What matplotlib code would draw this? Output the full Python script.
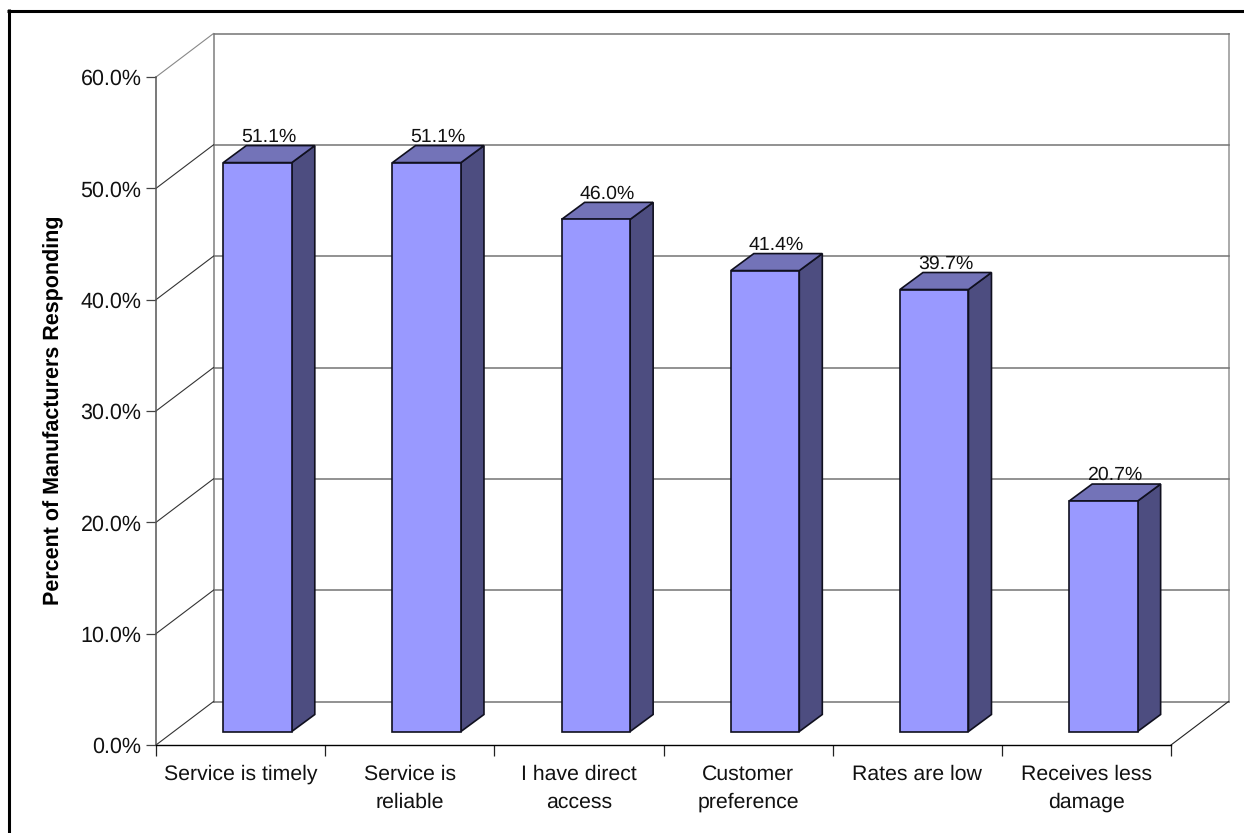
import matplotlib
matplotlib.use('Agg')
import matplotlib.pyplot as plt
from matplotlib.lines import Line2D
from matplotlib.patches import Polygon, Rectangle

# Values
categories = ['Service is timely', 'Service is\nreliable', 'I have direct\naccess',
              'Customer\npreference', 'Rates are low', 'Receives less\ndamage']
percents = [51.1, 51.1, 46.0, 41.4, 39.7, 20.7]
y_ticks = [0, 10, 20, 30, 40, 50, 60]

W, H = 1244, 833
AX_LEFT, AX_RIGHT, AX_TOP, AX_BOTTOM = 156, 1171, 77, 745

plt.rcParams['font.family'] = ['Liberation Sans', 'DejaVu Sans']
plt.rcParams['text.hinting'] = 'no_hinting'

fig = plt.figure(figsize=(W / 100, H / 100), dpi=100)
fig.patch.set_facecolor('white')
ax = fig.add_axes([AX_LEFT / W, 1 - AX_BOTTOM / H, (AX_RIGHT - AX_LEFT) / W, (AX_BOTTOM - AX_TOP) / H])
ax.set_xlim(0, len(categories))
ax.set_ylim(0, 60)
ax.patch.set_visible(False)
for side in ['top', 'right']:
    ax.spines[side].set_visible(False)
ax.spines['left'].set_color('#555555')
ax.spines['left'].set_linewidth(1.1)
ax.spines['bottom'].set_color('black')
ax.spines['bottom'].set_linewidth(1.0)

# Depth of the floor, in data units
px_x = len(categories) / (AX_RIGHT - AX_LEFT)
px_y = 60 / (AX_BOTTOM - AX_TOP)
depth_x = 57.5 * px_x
depth_y = 43.5 * px_y

# Back wall and floor
n = len(categories)
ax.plot([depth_x, depth_x], [depth_y, 60 + depth_y], color='#999999', lw=1.4, clip_on=False, zorder=1)
ax.plot([n + depth_x, n + depth_x], [depth_y, 60 + depth_y], color='#aaaaaa', lw=1.4, clip_on=False, zorder=1)
for t in y_ticks:
    ax.plot([depth_x, n + depth_x], [t + depth_y, t + depth_y], color='#747474', lw=1.1, clip_on=False, zorder=1)
    side = '#888888' if t == 60 else '#333333'
    ax.plot([0, depth_x], [t, t + depth_y], color=side, lw=0.8, clip_on=False, zorder=1)
ax.plot([n, n + depth_x], [0, depth_y], color='#222222', lw=0.8, clip_on=False, zorder=1)

# Bars
bar_w = 68.5 * px_x
bar_dx = 23 * px_x
bar_dy = 17 * px_y
front_x = 67.3 * px_x
front_y = 13.5 * px_y
edge = '#10101f'
for i, v in enumerate(percents):
    x0 = i + front_x
    x1 = x0 + bar_w
    y0 = front_y
    y1 = front_y + v
    ax.add_patch(Polygon([(x1, y0), (x1 + bar_dx, y0 + bar_dy), (x1 + bar_dx, y1 + bar_dy), (x1, y1)],
                         facecolor='#4d4d80', edgecolor=edge, lw=1.2, clip_on=False, zorder=3))
    ax.add_patch(Polygon([(x0, y1), (x0 + bar_dx, y1 + bar_dy), (x1 + bar_dx, y1 + bar_dy), (x1, y1)],
                         facecolor='#7373b8', edgecolor=edge, lw=1.2, clip_on=False, zorder=3))
    ax.add_patch(Rectangle((x0, y0), bar_w, v, facecolor='#9999ff', edgecolor=edge, lw=1.2,
                           clip_on=False, zorder=4))
    ax.text(x0 + (bar_w + bar_dx) / 2, y1 + bar_dy, f'{v:.1f}%', ha='center', va='bottom',
            fontsize=14, color='#111111', zorder=5)

ax.set_yticks(y_ticks)
ax.set_yticklabels([f'{t:.1f}%' for t in y_ticks], fontsize=15.5, color='#111111')
ax.set_xticks(range(n + 1))
ax.set_xticklabels([])
ax.tick_params(axis='y', length=7.5, width=0.9, color='#444444', pad=3)
ax.tick_params(axis='x', length=8, width=0.9, color='#222222')
for i, name in enumerate(categories):
    ax.annotate(name, (i + 0.5, 0), xytext=(0, -14), textcoords='offset points', ha='center', va='top',
                fontsize=15.3, color='#111111', linespacing=1.58, annotation_clip=False)
fig.text(54 / W, 1 - 410 / H, 'Percent of Manufacturers Responding', rotation=90, ha='center', va='center',
         fontsize=15.5, fontweight='bold')

# Outer black frame, only left and top are inside the picture
for xs, ys in [([8.5, 8.5], [9, 833]), ([7, 1244], [10.5, 10.5])]:
    fig.add_artist(Line2D([x / W for x in xs], [1 - y / H for y in ys], transform=fig.transFigure,
                          color='black', lw=2.2, solid_capstyle='butt'))

fig.savefig('out.png', dpi=100)
